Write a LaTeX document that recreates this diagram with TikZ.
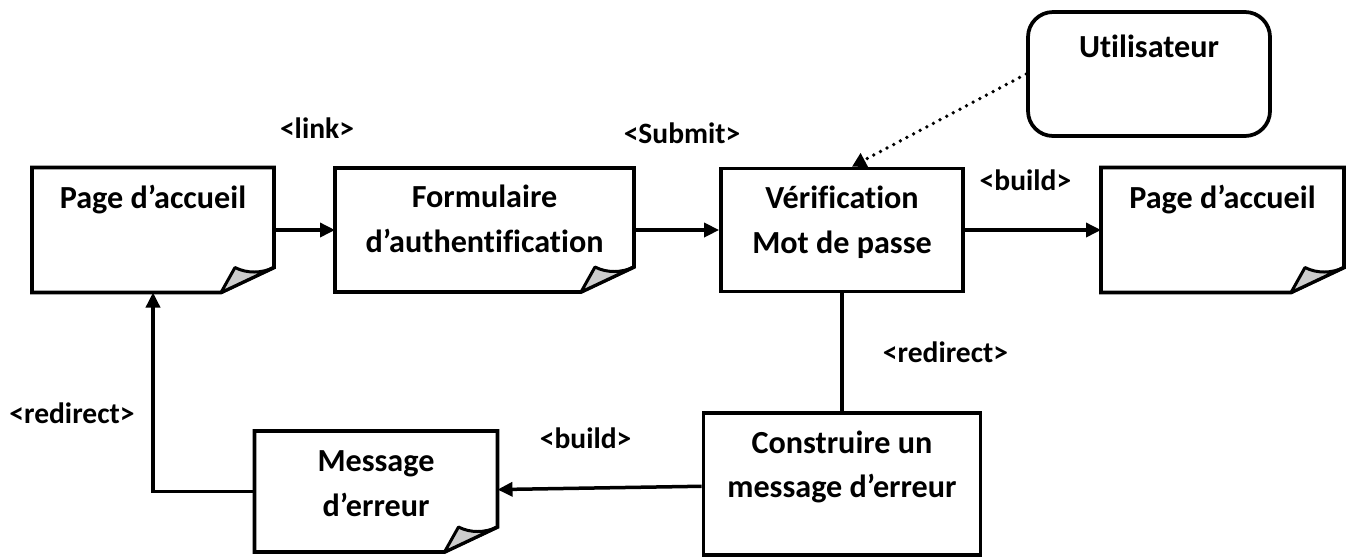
\documentclass[tikz,border=0pt]{standalone}
\usepackage{fontspec}
\setmainfont[Ligatures=NoCommon]{Carlito}
\usepackage{tikz}
\usetikzlibrary{positioning, arrows.meta}
\tikzstyle{page} = [rectangle, minimum width=4.84cm, minimum height=2.5cm, outer sep=0pt]
\tikzstyle{process} = [rectangle, minimum width=4.84cm, minimum height=2.46cm, draw=black, line width=0.075cm]
\tikzstyle{actor} = [rectangle, rounded corners=0.5cm, minimum width=4.84cm, minimum height=2.48cm, draw=black, line width=0.075cm]
\tikzstyle{titre} = [font=\fontsize{18.3pt}{25.5pt}\selectfont\bfseries, align=center, inner sep=0pt]
\tikzstyle{lbl} = [font=\fontsize{16.8pt}{20pt}\selectfont\bfseries, inner sep=0pt]
\tikzstyle{arrow} = [line width=0.07cm, -{Triangle[length=0.3cm, width=0.28cm]}]
\tikzstyle{wire} = [line width=0.07cm]
\tikzstyle{dots} = [line width=0.075cm, line cap=round, dash pattern=on 0pt off 0.15cm, -{Triangle[length=0.28cm, width=0.3cm]}]

\begin{document}
\begin{tikzpicture}
  \useasboundingbox (0,0) rectangle (27.08,-11.16);
  \node (accueil) [page] at (3.06,-4.6) {};
  \node (formulaire) [page, minimum width=5.98cm, minimum height=2.48cm, right of=accueil, xshift=5.63cm] {};
  \node (verif) [process, right of=formulaire, xshift=6.15cm] {};
  \node (accueil2) [page, minimum width=4.86cm, right of=verif, xshift=6.61cm] {};
  \node (utilisateur) [actor, above of=accueil2, xshift=-1.47cm, yshift=2.12cm] {};
  \node (construire) [process, minimum width=5.54cm, minimum height=2.84cm, below of=verif, yshift=-4.08cm] {};
  \node (message) [page, minimum width=4.86cm, minimum height=2.42cm, left of=construire, xshift=-8.32cm, yshift=-0.15cm] {};
  % pages with folded corner
  \foreach \p in {accueil, formulaire, accueil2, message} {
    \draw[line width=0.075cm] (\p.north west) -- (\p.north east) -- ([yshift=0.5cm]\p.south east)
      -- ([xshift=-1.06cm]\p.south east) -- (\p.south west) -- cycle;
    \filldraw[fill=black!20, line width=0.06cm, line join=round] ([xshift=-1.06cm]\p.south east)
      -- ([xshift=-0.78cm, yshift=0.5cm]\p.south east)
      .. controls ([xshift=-0.55cm, yshift=0.38cm]\p.south east) and ([xshift=-0.25cm, yshift=0.38cm]\p.south east)
      .. ([yshift=0.5cm]\p.south east) -- cycle;
  }
  \node (accueil-txt) [titre, below=0.34cm of accueil.north] {Page d’accueil};
  \node (formulaire-txt) [titre, below=0.34cm of formulaire.north] {Formulaire\\d’authentification};
  \node (verif-txt) [titre, below=0.38cm of verif.north] {Vérification\\Mot de passe};
  \node (accueil2-txt) [titre, below=0.34cm of accueil2.north] {Page d’accueil};
  \node (utilisateur-txt) [titre, below=0.48cm of utilisateur.north] {Utilisateur};
  \node (construire-txt) [titre, below=0.38cm of construire.north] {Construire un\\message d’erreur};
  \node (message-txt) [titre, below=0.38cm of message.north] {Message\\d’erreur};
  \draw[arrow](accueil) -- node[lbl, xshift=0.25cm, yshift=2.04cm]{<link>} (formulaire);
  \draw[arrow](formulaire) -- node[lbl, xshift=0.11cm, yshift=1.94cm]{<Submit>} (verif);
  \draw[arrow](verif) -- node[lbl, xshift=-0.15cm, yshift=1.0cm]{<build>} (accueil2);
  \draw[dots](utilisateur.west) -- ([xshift=0.2cm]verif.north);
  \draw[wire](verif) -- node[lbl, xshift=2.07cm]{<redirect>} (construire);
  \draw[arrow](construire) -- node[lbl, xshift=-0.28cm, yshift=1.0cm]{<build>} (message);
  \draw[arrow](message.west) -| node[lbl, pos=0.75, xshift=-1.62cm, yshift=-0.43cm]{<redirect>} (accueil.south);
\end{tikzpicture}
\end{document}
